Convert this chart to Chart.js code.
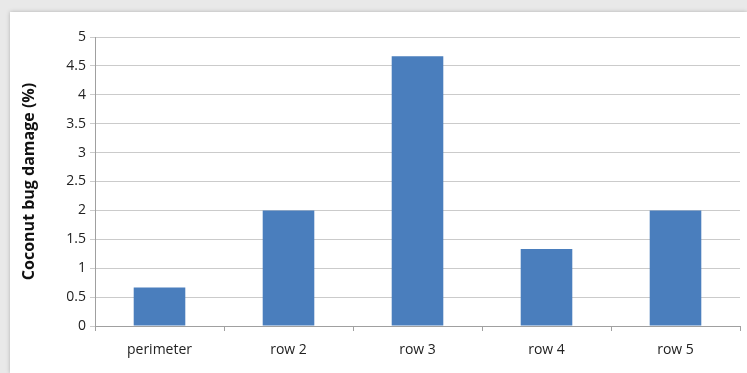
<!DOCTYPE html>
<html>
<head>
<meta charset="utf-8">
<script src="https://cdn.jsdelivr.net/npm/chart.js@4"></script>
<style>
body{margin:0;background:#e9e9e9;width:747px;height:373px;overflow:hidden}
#box{position:absolute;left:10px;top:12px;width:737px;height:361px;background:#fff;box-shadow:0 0 4px rgba(0,0,0,0.25)}
</style>
</head>
<body>
<div id="box"><canvas id="grafik" width="737" height="361"></canvas></div>
<script>
let kategori=["perimeter","row 2","row 3","row 4","row 5"]
let kerusakan=[0.667,2,4.667,1.333,2]
let judulY="Coconut bug damage (%)"

let ctx=document.getElementById("grafik")

new Chart(ctx,{
type:"bar",
data:{
labels:kategori,
datasets:[{
data:kerusakan,
backgroundColor:"#4a7ebd",
categoryPercentage:0.8,
barPercentage:0.5
}]
},
options:{
responsive:false,
animation:false,
layout:{padding:{left:0,top:25,right:7,bottom:0}},
plugins:{legend:{display:false},tooltip:{enabled:false}},
scales:{
x:{
afterFit:s=>{s.height=47},
grid:{display:true,offset:true,drawOnChartArea:false,tickLength:5,color:"#a0a0a0"},
border:{color:"#a0a0a0"},
ticks:{color:"#222",font:{family:"Open Sans",size:14},padding:11}
},
y:{
min:0,max:5,
afterFit:s=>{s.width=85},
ticks:{stepSize:0.5,color:"#222",font:{family:"Open Sans",size:14},padding:4,callback:v=>String(v)},
grid:{color:"#cbcbcb",tickLength:5},
border:{color:"#a0a0a0"},
title:{display:true,text:judulY,color:"#111",font:{family:"Open Sans",size:16,weight:"bold"},padding:{top:10,bottom:0}}
}
}
}
})
</script>
</body>
</html>
